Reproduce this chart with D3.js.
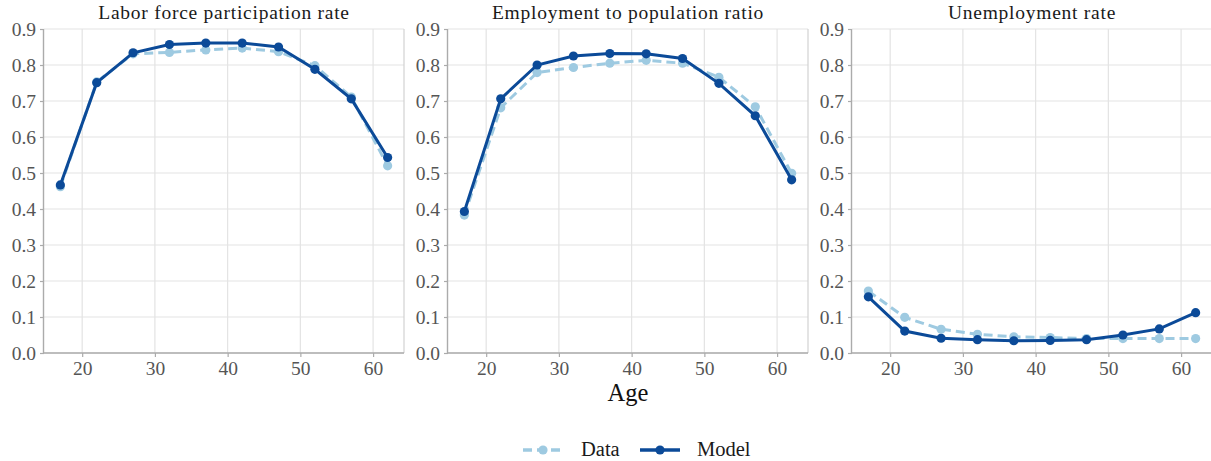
<!DOCTYPE html>
<html>
<head>
<meta charset="utf-8">
<script src="https://cdn.jsdelivr.net/npm/d3@7"></script>
<style>
  html, body { margin: 0; padding: 0; background: #fff; }
  svg { display: block; font-family: "Liberation Serif", "DejaVu Serif", serif; }
</style>
</head>
<body>
<svg id="chart" width="1211" height="461"></svg>
<script>
// Age groups (midpoints)
const ages = [17, 22, 27, 32, 37, 42, 47, 52, 57, 62];

// Labor force participation rate
const lfpData  = [0.462, 0.753, 0.831, 0.835, 0.842, 0.847, 0.837, 0.798, 0.711, 0.520];
const lfpModel = [0.467, 0.751, 0.834, 0.857, 0.861, 0.861, 0.850, 0.788, 0.706, 0.543];

// Employment to population ratio
const epData  = [0.383, 0.681, 0.779, 0.793, 0.805, 0.813, 0.805, 0.766, 0.684, 0.499];
const epModel = [0.393, 0.706, 0.800, 0.825, 0.832, 0.831, 0.818, 0.749, 0.659, 0.481];

// Unemployment rate
const urData  = [0.172, 0.099, 0.066, 0.052, 0.045, 0.043, 0.040, 0.040, 0.040, 0.040];
const urModel = [0.156, 0.061, 0.041, 0.037, 0.034, 0.035, 0.037, 0.050, 0.067, 0.112];

const panelTitles = ["Labor force participation rate", "Employment to population ratio", "Unemployment rate"];
const xTicks = [20, 30, 40, 50, 60];
const yTicks = [0, 0.1, 0.2, 0.3, 0.4, 0.5, 0.6, 0.7, 0.8, 0.9];
const seriesNames = ["Data", "Model"];

const panels = [
  { title: panelTitles[0], data: lfpData, model: lfpModel },
  { title: panelTitles[1], data: epData,  model: epModel },
  { title: panelTitles[2], data: urData,  model: urModel }
];

const colData = "#9ecae1";
const colModel = "#0b4a98";
const gridCol = "#e3e3e3";
const axisCol = "#ababab";
const tickTextCol = "#555555";

const svg = d3.select("#chart");
const panelW = 360, plotTop = 29, plotBottom = 353, step = 404, left0 = 44;

const y = d3.scaleLinear().domain([0, 0.9]).range([plotBottom, plotTop]);

panels.forEach((p, i) => {
  const left = left0 + i * step;
  const x = d3.scaleLinear().domain([14.75, 64.25]).range([left, left + panelW]);
  const g = svg.append("g");

  // grid
  g.selectAll(".hg").data(yTicks).join("line")
    .attr("x1", left).attr("x2", left + panelW)
    .attr("y1", d => y(d)).attr("y2", d => y(d))
    .attr("stroke", gridCol).attr("stroke-width", 1.2);
  g.selectAll(".vg").data(xTicks).join("line")
    .attr("x1", d => x(d)).attr("x2", d => x(d))
    .attr("y1", plotTop).attr("y2", plotBottom)
    .attr("stroke", gridCol).attr("stroke-width", 1.2);
  // right border
  g.append("line").attr("x1", left + panelW).attr("x2", left + panelW)
    .attr("y1", plotTop).attr("y2", plotBottom)
    .attr("stroke", "#d2d2d2").attr("stroke-width", 1.2);

  // axes
  const yAxis = g.append("g").attr("transform", `translate(${left},0)`)
    .call(d3.axisLeft(y).tickValues(yTicks).tickFormat(d3.format(".1f")).tickSize(4).tickPadding(4));
  const xAxis = g.append("g").attr("transform", `translate(0,${plotBottom})`)
    .call(d3.axisBottom(x).tickValues(xTicks).tickFormat(d3.format("d")).tickSize(4).tickPadding(4));
  [yAxis, xAxis].forEach(a => {
    a.select(".domain").attr("stroke", axisCol).attr("stroke-width", 1.4);
    a.selectAll(".tick line").attr("stroke", axisCol).attr("stroke-width", 1.2);
    a.selectAll(".tick text").attr("fill", tickTextCol)
      .style("font-family", '"Liberation Serif", serif').style("font-size", "19.5px");
  });
  yAxis.select(".domain").attr("d", `M-0.5,${plotTop}V${plotBottom}`);
  xAxis.select(".domain").attr("d", `M${left},0H${left + panelW}`);

  // title
  g.append("text").attr("x", left + panelW / 2).attr("y", 18.5)
    .attr("text-anchor", "middle").attr("fill", "#1a1a1a")
    .style("font-size", "19.5px").style("letter-spacing", "0.75px").text(p.title);

  const line = d3.line().x((d, k) => x(ages[k])).y(d => y(d));

  // data series (dashed)
  g.append("path").datum(p.data).attr("d", line)
    .attr("fill", "none").attr("stroke", colData).attr("stroke-width", 3)
    .attr("stroke-dasharray", "9,5");
  g.selectAll(".dd").data(p.data).join("circle")
    .attr("cx", (d, k) => x(ages[k])).attr("cy", d => y(d)).attr("r", 4.6)
    .attr("fill", colData);

  // model series (solid)
  g.append("path").datum(p.model).attr("d", line)
    .attr("fill", "none").attr("stroke", colModel).attr("stroke-width", 3);
  g.selectAll(".md").data(p.model).join("circle")
    .attr("cx", (d, k) => x(ages[k])).attr("cy", d => y(d)).attr("r", 4.6)
    .attr("fill", colModel);
});

// shared x label
svg.append("text").attr("x", 628).attr("y", 401).attr("text-anchor", "middle")
  .attr("fill", "#111").style("font-size", "24.5px").text("Age");

// legend
const leg = svg.append("g");
const legItems = [
  { name: seriesNames[0], col: colData, dash: "9,5", x0: 523, tx: 581 },
  { name: seriesNames[1], col: colModel, dash: null, x0: 640, tx: 697 }
];
legItems.forEach(it => {
  leg.append("line").attr("x1", it.x0).attr("x2", it.x0 + 40).attr("y1", 450).attr("y2", 450)
    .attr("stroke", it.col).attr("stroke-width", 3.5).attr("stroke-dasharray", it.dash);
  leg.append("circle").attr("cx", it.x0 + 20).attr("cy", 450).attr("r", 4.6).attr("fill", it.col);
  leg.append("text").attr("x", it.tx).attr("y", 456).attr("fill", "#1a1a1a")
    .style("font-size", "20.5px").text(it.name);
});
</script>
</body>
</html>
